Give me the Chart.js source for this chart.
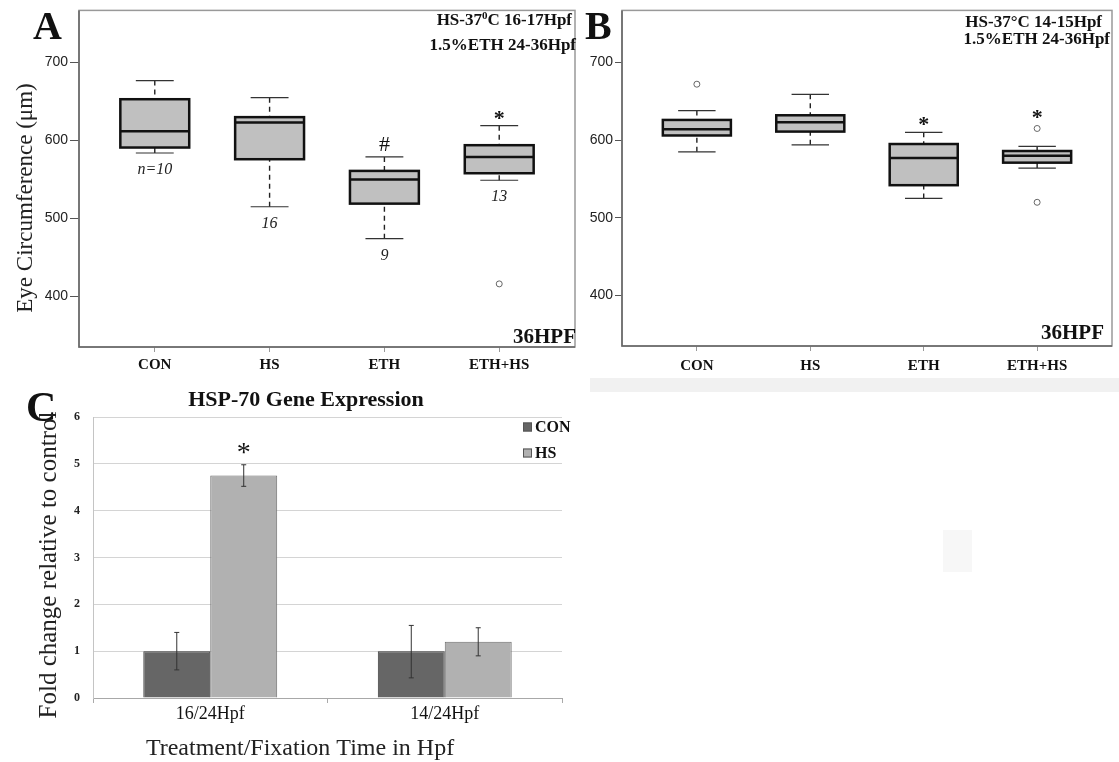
<!DOCTYPE html>
<html>
<head>
<meta charset="utf-8">
<script src="https://cdn.jsdelivr.net/npm/chart.js@4.4.0/dist/chart.umd.min.js"></script>
<style>
html,body{margin:0;padding:0;background:#fff;width:1119px;height:762px;overflow:hidden;}
canvas{position:absolute;}
#band{position:absolute;left:590px;top:378px;width:529px;height:14px;background:#f1f1f1;}
#spot{position:absolute;left:943px;top:530px;width:29px;height:42px;background:#f7f7f7;}
</style>
</head>
<body>
<div id="band"></div>
<div id="spot"></div>
<canvas id="chartA" width="580" height="385" style="left:0;top:0"></canvas>
<canvas id="chartB" width="539" height="385" style="left:580px;top:0"></canvas>
<canvas id="chartC" width="580" height="382" style="left:0;top:380px"></canvas>
<script>
// ---------- data ----------
const boxCategories = ['CON', 'HS', 'ETH', 'ETH+HS'];
const boxYTicks = [400, 500, 600, 700];

// Panel A : HS-37C 16-17 hpf, 1.5% ETH 24-36 hpf
const aLow  = [584, 515, 474, 549];
const aQ1   = [591, 576, 519, 558];
const aMed  = [612, 623, 550, 579];
const aQ3   = [653, 630, 561, 594];
const aHigh = [677, 655, 579, 619];
const aOutliers = [[], [], [], [416]];
const aCounts = ['n=10', '16', '9', '13'];
const aMarks = ['', '', '#', '*'];

// Panel B : HS-37C 14-15 hpf, 1.5% ETH 24-36 hpf
const bLow  = [585, 594, 525, 564];
const bQ1   = [606, 611, 542, 571];
const bMed  = [614, 623, 577, 580];
const bQ3   = [626, 632, 595, 586];
const bHigh = [638, 659, 610, 592];
const bOutliers = [[672], [], [], [615, 520]];
const bMarks = ['', '', '*', '*'];

// Panel C : HSP-70 gene expression
const cCategories = ['16/24Hpf', '14/24Hpf'];
const cConMean = [1.0, 1.0];
const cConLow  = [0.6, 0.43];
const cConHigh = [1.4, 1.55];
const cHsMean  = [4.75, 1.2];
const cHsLow   = [4.52, 0.9];
const cHsHigh  = [4.98, 1.5];
const cHsMarks = ['*', ''];
const cYTicks = [0, 1, 2, 3, 4, 5, 6];

// ---------- styles ----------
const serif = "'Liberation Serif','Times New Roman',Times,serif";
const sans = "'Liberation Sans',Arial,Helvetica,sans-serif";

// draws a right-aligned line made of parts, some of them superscript
function drawNote(ctx, parts, right, base) {
  const big = `bold 17px ${serif}`, small = `bold 11px ${serif}`;
  let total = 0;
  parts.forEach(pt => { ctx.font = pt.sup ? small : big; total += ctx.measureText(pt.t).width; });
  let xx = right - total;
  ctx.textAlign = 'left';
  parts.forEach(pt => {
    ctx.font = pt.sup ? small : big;
    ctx.fillText(pt.t, xx, pt.sup ? base - 6 : base);
    xx += ctx.measureText(pt.t).width;
  });
}

function boxPlotPlugin(p) {
  return {
    id: 'boxplot',
    beforeDatasetsDraw(chart) {
      const {ctx, scales: {x, y}} = chart;
      ctx.save();
      p.med.forEach((m, i) => {
        const v = i + 1;
        const cx = x.getPixelForValue(v);
        const hw = x.getPixelForValue(v + 0.3) - cx;
        const cw = x.getPixelForValue(v + 0.165) - cx;
        const yl = y.getPixelForValue(p.low[i]);
        const y1 = y.getPixelForValue(p.q1[i]);
        const ym = y.getPixelForValue(m);
        const y3 = y.getPixelForValue(p.q3[i]);
        const yh = y.getPixelForValue(p.high[i]);
        // dashed whiskers
        ctx.strokeStyle = '#222';
        ctx.lineWidth = 1.4;
        ctx.setLineDash([5, 4]);
        ctx.beginPath();
        ctx.moveTo(cx, yh); ctx.lineTo(cx, y3);
        ctx.moveTo(cx, yl); ctx.lineTo(cx, y1);
        ctx.stroke();
        ctx.setLineDash([]);
        // caps
        ctx.strokeStyle = '#333';
        ctx.lineWidth = 1.2;
        ctx.beginPath();
        ctx.moveTo(cx - cw, yh); ctx.lineTo(cx + cw, yh);
        ctx.moveTo(cx - cw, yl); ctx.lineTo(cx + cw, yl);
        ctx.stroke();
        // box
        ctx.fillStyle = '#c0c0c0';
        ctx.fillRect(cx - hw, y3, 2 * hw, y1 - y3);
        ctx.strokeStyle = '#111';
        ctx.lineWidth = 2.5;
        ctx.strokeRect(cx - hw, y3, 2 * hw, y1 - y3);
        // median
        ctx.beginPath();
        ctx.moveTo(cx - hw, ym); ctx.lineTo(cx + hw, ym);
        ctx.stroke();
      });
      ctx.restore();
    },
    afterDraw(chart) {
      const {ctx, chartArea: ca, scales: {x, y}} = chart;
      ctx.save();
      // frame
      ctx.lineWidth = 1.5;
      ctx.strokeStyle = '#999';
      ctx.strokeRect(ca.left, ca.top, ca.right - ca.left, ca.bottom - ca.top);
      ctx.strokeStyle = '#666';
      ctx.beginPath();
      ctx.moveTo(ca.left, ca.top); ctx.lineTo(ca.left, ca.bottom); ctx.lineTo(ca.right, ca.bottom);
      ctx.stroke();
      ctx.fillStyle = '#111';
      // panel letter
      ctx.font = `bold 40px ${serif}`;
      ctx.textAlign = 'left'; ctx.textBaseline = 'alphabetic';
      ctx.fillText(p.letter.text, p.letter.x, p.letter.y);
      // y title
      if (p.yTitle) {
        ctx.save();
        ctx.translate(p.yTitle.x, p.yTitle.y);
        ctx.rotate(-Math.PI / 2);
        ctx.font = `23px ${serif}`;
        ctx.textAlign = 'center';
        ctx.fillStyle = '#222';
        ctx.fillText(p.yTitle.text, 0, 0);
        ctx.restore();
      }
      // condition notes
      p.notes.forEach(n => drawNote(ctx, n.parts, n.x, n.y));
      // stage
      ctx.font = `bold 21px ${serif}`;
      ctx.textAlign = 'right';
      ctx.fillText(p.stage.text, p.stage.x, p.stage.y);
      // counts
      ctx.textAlign = 'center';
      if (p.counts) {
        ctx.font = `italic 16px ${serif}`;
        ctx.fillStyle = '#222';
        p.counts.forEach((t, i) => {
          ctx.fillText(t, x.getPixelForValue(i + 1), y.getPixelForValue(p.low[i]) + 21);
        });
      }
      // significance marks
      ctx.fillStyle = '#111';
      p.marks.forEach((t, i) => {
        if (!t) return;
        let top = y.getPixelForValue(p.high[i]);
        (p.outliers[i] || []).forEach(o => { top = Math.min(top, y.getPixelForValue(o) - 3); });
        ctx.font = t === '#' ? `22px ${serif}` : `bold 22px ${serif}`;
        ctx.fillText(t, x.getPixelForValue(i + 1), top - (t === '#' ? 6 : 1));
      });
      ctx.restore();
    }
  };
}

function makeBoxChart(id, p) {
  const pts = [];
  p.outliers.forEach((arr, i) => arr.forEach(v => pts.push({x: i + 1, y: v})));
  return new Chart(document.getElementById(id), {
    type: 'scatter',
    data: {datasets: [{
      label: 'outliers', data: pts, pointRadius: 3, pointStyle: 'circle',
      borderColor: '#666', backgroundColor: 'rgba(0,0,0,0)', borderWidth: 1
    }]},
    options: {
      responsive: false, animation: false, events: [],
      layout: {padding: p.padding},
      plugins: {legend: {display: false}, tooltip: {enabled: false}},
      scales: {
        x: {
          type: 'linear', min: 0.34, max: 4.66,
          afterBuildTicks: s => { s.ticks = boxCategories.map((c, i) => ({value: i + 1})); },
          afterFit: s => { s.height = p.xHeight; },
          ticks: {
            callback: v => boxCategories[Math.round(v) - 1],
            font: {family: serif, size: 15, weight: 'bold'}, color: '#111',
            padding: p.xPad, autoSkip: false, maxRotation: 0
          },
          grid: {drawOnChartArea: false, tickLength: 5, color: '#999'},
          border: {display: false}
        },
        y: {
          min: 335, max: 767,
          afterBuildTicks: s => { s.ticks = boxYTicks.map(v => ({value: v})); },
          afterFit: s => { s.width = p.yWidth; },
          ticks: {font: {family: sans, size: 14}, color: '#222', padding: 2},
          grid: {drawOnChartArea: false, tickLength: p.yTick, color: '#555'},
          border: {display: false}
        }
      }
    },
    plugins: [boxPlotPlugin(p)]
  });
}

makeBoxChart('chartA', {
  low: aLow, q1: aQ1, med: aMed, q3: aQ3, high: aHigh, outliers: aOutliers,
  counts: aCounts, marks: aMarks,
  padding: {top: 8, right: 1, left: 0, bottom: 0}, xHeight: 38, yWidth: 79, yTick: 9, xPad: 4,
  letter: {text: 'A', x: 33, y: 39},
  yTitle: {text: 'Eye Circumference (μm)', x: 32, y: 198},
  notes: [
    {parts: [{t: 'HS-37'}, {t: '0', sup: true}, {t: 'C 16-17Hpf'}], x: 572, y: 25},
    {parts: [{t: '1.5%ETH 24-36Hpf'}], x: 576, y: 50}
  ],
  stage: {text: '36HPF', x: 576, y: 343}
});

makeBoxChart('chartB', {
  low: bLow, q1: bQ1, med: bMed, q3: bQ3, high: bHigh, outliers: bOutliers,
  counts: null, marks: bMarks,
  padding: {top: 8, right: 7, left: 0, bottom: 0}, xHeight: 39, yWidth: 42, yTick: 7, xPad: 6,
  letter: {text: 'B', x: 5, y: 39},
  yTitle: null,
  notes: [
    {parts: [{t: 'HS-37°C 14-15Hpf'}], x: 522, y: 27},
    {parts: [{t: '1.5%ETH 24-36Hpf'}], x: 530, y: 44}
  ],
  stage: {text: '36HPF', x: 524, y: 339}
});

// ---------- panel C ----------
const errBars = [[cConLow, cConHigh], [cHsLow, cHsHigh]];
const cPlugin = {
  id: 'cDecor',
  afterDatasetsDraw(chart) {
    const {ctx, scales: {y}} = chart;
    ctx.save();
    ctx.strokeStyle = '#333';
    ctx.lineWidth = 1;
    errBars.forEach(([lo, hi], di) => {
      const meta = chart.getDatasetMeta(di);
      meta.data.forEach((bar, i) => {
        const yl = y.getPixelForValue(lo[i]), yh = y.getPixelForValue(hi[i]);
        ctx.beginPath();
        ctx.moveTo(bar.x, yl); ctx.lineTo(bar.x, yh);
        ctx.moveTo(bar.x - 2.5, yl); ctx.lineTo(bar.x + 2.5, yl);
        ctx.moveTo(bar.x - 2.5, yh); ctx.lineTo(bar.x + 2.5, yh);
        ctx.stroke();
      });
    });
    // significance
    ctx.fillStyle = '#111';
    ctx.font = `28px ${serif}`;
    ctx.textAlign = 'center';
    const hsMeta = chart.getDatasetMeta(1);
    cHsMarks.forEach((t, i) => {
      if (t) ctx.fillText(t, hsMeta.data[i].x, y.getPixelForValue(cHsHigh[i]) - 4);
    });
    ctx.restore();
  },
  afterDraw(chart) {
    const {ctx} = chart;
    ctx.save();
    ctx.fillStyle = '#111';
    ctx.textBaseline = 'alphabetic';
    // panel letter
    ctx.font = `bold 42px ${serif}`;
    ctx.textAlign = 'left';
    ctx.fillText('C', 26, 41);
    // title
    ctx.font = `bold 22px ${serif}`;
    ctx.textAlign = 'center';
    ctx.fillText('HSP-70 Gene Expression', 306, 26);
    // x title
    ctx.font = `24px ${serif}`;
    ctx.fillStyle = '#222';
    ctx.fillText('Treatment/Fixation Time in Hpf', 300, 375);
    // y title
    ctx.save();
    ctx.translate(56, 185);
    ctx.rotate(-Math.PI / 2);
    ctx.font = `25px ${serif}`;
    ctx.fillText('Fold change relative to control', 0, 0);
    ctx.restore();
    // legend
    ctx.textAlign = 'left';
    ctx.textBaseline = 'middle';
    ctx.font = `bold 16px ${serif}`;
    chart.data.datasets.forEach((ds, i) => {
      const yy = 47 + i * 26;
      ctx.fillStyle = ds.backgroundColor;
      ctx.fillRect(523, yy - 4.5, 9, 9);
      ctx.strokeStyle = '#555';
      ctx.lineWidth = 1;
      ctx.strokeRect(523.5, yy - 4, 8, 8);
      ctx.fillStyle = '#111';
      ctx.fillText(ds.label, 535, yy + 1);
    });
    ctx.restore();
  }
};

new Chart(document.getElementById('chartC'), {
  type: 'bar',
  data: {
    labels: cCategories,
    datasets: [
      {label: 'CON', data: cConMean, backgroundColor: '#666666', borderColor: '#3a3a3a', borderWidth: 1},
      {label: 'HS', data: cHsMean, backgroundColor: '#b1b1b1', borderColor: '#6e6e6e', borderWidth: 1}
    ]
  },
  options: {
    responsive: false, animation: false, events: [],
    datasets: {bar: {barPercentage: 1, categoryPercentage: 0.571}},
    layout: {padding: {top: 37, right: 18, left: 0, bottom: 0}},
    plugins: {legend: {display: false}, tooltip: {enabled: false}},
    scales: {
      x: {
        afterFit: s => { s.height = 64; },
        grid: {offset: true, drawOnChartArea: false, tickLength: 5, color: '#aaa'},
        border: {color: '#a8a8a8'},
        ticks: {font: {family: serif, size: 18}, color: '#111', padding: 0, autoSkip: false, maxRotation: 0}
      },
      y: {
        min: 0, max: 6,
        afterBuildTicks: s => { s.ticks = cYTicks.map(v => ({value: v})); },
        afterFit: s => { s.width = 93; },
        grid: {color: '#d4d4d4', drawTicks: false},
        border: {color: '#c4c4c4'},
        ticks: {font: {family: serif, size: 12, weight: 'bold'}, color: '#222', padding: 13}
      }
    }
  },
  plugins: [cPlugin]
});
</script>
</body>
</html>
